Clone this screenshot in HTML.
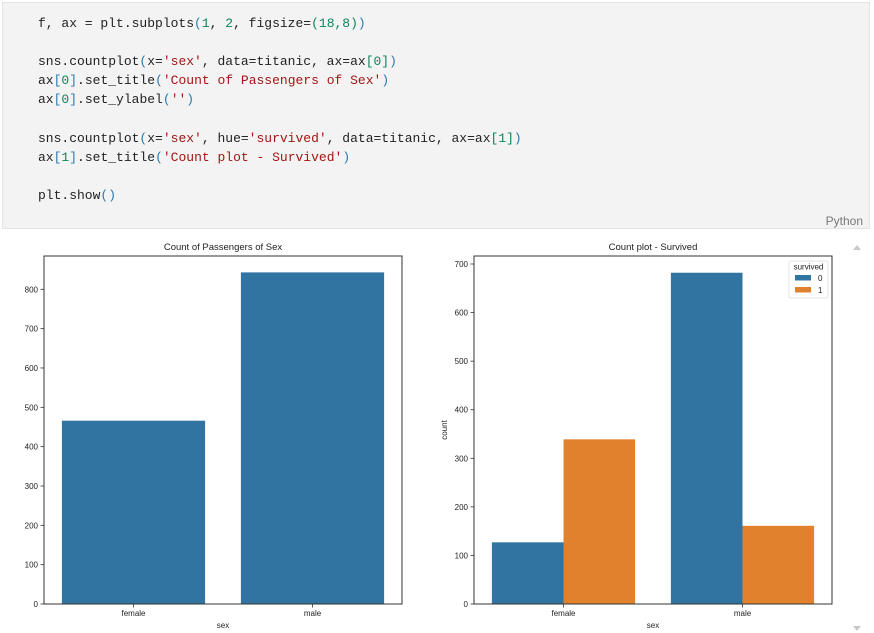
<!DOCTYPE html>
<html><head><meta charset="utf-8"><style>
body{margin:0;width:874px;height:633px;background:#fff;overflow:hidden;position:relative;font-family:"Liberation Sans",sans-serif}
#code{position:absolute;left:2px;top:2px;width:868px;height:227px;background:#f3f3f3;border:1px solid #e4e4e4;box-sizing:border-box}
#code pre{margin:0;position:absolute;left:35px;top:11px;font-family:"Liberation Mono",monospace;font-size:13px;line-height:19.1px;color:#222}
.s{color:#a31515}.b{color:#0451a5}.g{color:#098658}.p{color:#2a7ab0}
#lang{position:absolute;right:6px;top:211px;font-size:12px;color:#777}
svg{position:absolute;left:0;top:0}
svg text{font-family:"Liberation Sans",sans-serif}
</style></head><body>
<div id="code">
<pre>f, ax = plt.subplots<span class="p">(</span><span class="g">1</span>, <span class="g">2</span>, figsize=<span class="g">(18,8)</span><span class="p">)</span>

sns.countplot<span class="p">(</span>x=<span class="s">'sex'</span>, data=titanic, ax=ax<span class="g">[0]</span><span class="p">)</span>
ax<span class="p">[</span><span class="g">0</span><span class="p">]</span>.set_title<span class="p">(</span><span class="s">'Count of Passengers of Sex'</span><span class="p">)</span>
ax<span class="p">[</span><span class="g">0</span><span class="p">]</span>.set_ylabel<span class="p">(</span><span class="s">''</span><span class="p">)</span>

sns.countplot<span class="p">(</span>x=<span class="s">'sex'</span>, hue=<span class="s">'survived'</span>, data=titanic, ax=ax<span class="g">[1]</span><span class="p">)</span>
ax<span class="p">[</span><span class="g">1</span><span class="p">]</span>.set_title<span class="p">(</span><span class="s">'Count plot - Survived'</span><span class="p">)</span>

plt.show<span class="p">()</span></pre>
<div id="lang">Python</div>
</div>
<svg id="fig" width="874" height="633">
<polygon points="853,250 861,250 857,245" fill="#c8c8c8"/>
<polygon points="853,626 861,626 857,631" fill="#c8c8c8"/>
</svg>
<script>
const categories=["female","male"];
const totalCounts=[466,843];
const ticks1=[0,100,200,300,400,500,600,700,800];
const hueLabels=["0","1"];
const survived0=[127,682];
const survived1=[339,161];
const ticks2=[0,100,200,300,400,500,600,700];
const colors=["#3274a1","#e1812c"];
const svg=document.getElementById('fig');
const NS='http://www.w3.org/2000/svg';
function mk(tag,attrs,parent){const e=document.createElementNS(NS,tag);for(const k in attrs)e.setAttribute(k,attrs[k]);(parent||svg).appendChild(e);return e;}
function txt(s,attrs,parent){const e=mk('text',attrs,parent);e.textContent=s;return e;}
function axes(x0,x1,y0,y1,ymax,ticks,title,ylabel,name){
  const g=mk('g',{});
  
  
  const ys=v=>y1-(v/ymax)*(y1-y0);
  const step=(x1-x0)/categories.length;
  const xc=i=>x0+step*(i+0.5);
  ticks.forEach(t=>{
    const l=mk('line',{x1:x0-3.5,x2:x0,y1:ys(t),y2:ys(t),stroke:'#333','stroke-width':0.8},g);
    
    
    const tx=txt(String(t),{x:x0-6,y:ys(t)+3,'font-size':8,'text-anchor':'end',fill:'#222'},g);
    
    
  });
  categories.forEach((c,i)=>{
    mk('line',{x1:xc(i),x2:xc(i),y1:y1,y2:y1+3.5,stroke:'#333','stroke-width':0.8},g);
    const tx=txt(c,{x:xc(i),y:y1+12,'font-size':8,'text-anchor':'middle',fill:'#222'},g);
    
    
  });
  const xt=txt('sex',{x:(x0+x1)/2,y:y1+24,'font-size':8,'text-anchor':'middle',fill:'#222'},g);
  
  
  const tt=txt(title,{x:(x0+x1)/2,y:y0-6,'font-size':9.5,'text-anchor':'middle',fill:'#222'},g);
  
  
  if(ylabel){const yl=txt(ylabel,{x:0,y:0,'font-size':8,'text-anchor':'middle',fill:'#222',transform:`translate(${x0-27},${(y0+y1)/2}) rotate(-90)`},g);
    
    }
  return {g,ys,step,xc};
}
// left
(function(){
  const x0=44,x1=402,y0=256,y1=604;
  const a=axes(x0,x1,y0,y1,ticks1[ticks1.length-1]*(y1-y0)/(y1-289.3),ticks1,'Count of Passengers of Sex','', 'left-chart');
  const w=a.step*0.8;
  totalCounts.forEach((v,i)=>{
    const r=mk('rect',{x:a.xc(i)-w/2,y:a.ys(v),width:w,height:y1-a.ys(v),fill:colors[0]},a.g);
    
    
  });
  mk('rect',{x:x0,y:y0,width:x1-x0,height:y1-y0,fill:'none',stroke:'#333','stroke-width':1},a.g);
})();
// right
(function(){
  const x0=474,x1=832,y0=256,y1=604;
  const a=axes(x0,x1,y0,y1,700*(y1-y0)/(y1-264),ticks2,'Count plot - Survived','count','right-chart');
  const w=a.step*0.8/2;
  [survived0,survived1].forEach((ser,h)=>{
    ser.forEach((v,i)=>{
      const r=mk('rect',{x:a.xc(i)-w+h*w,y:a.ys(v),width:w,height:y1-a.ys(v),fill:colors[h]},a.g);
      
      
    });
  });
  mk('rect',{x:x0,y:y0,width:x1-x0,height:y1-y0,fill:'none',stroke:'#333','stroke-width':1},a.g);
  const lg=mk('g',{},a.g);
  
  
  mk('rect',{x:789,y:261,width:39,height:37,fill:'#fff',stroke:'#ddd','stroke-width':0.8,rx:2},lg);
  txt('survived',{x:808.5,y:269.5,'font-size':8,'text-anchor':'middle',fill:'#222'},lg);
  hueLabels.forEach((h,k)=>{
    const e=mk('g',{},lg);
    
    
    mk('rect',{x:795,y:275+k*12,width:16,height:5.5,fill:colors[k]},e);
    txt(h,{x:818,y:281+k*12,'font-size':8,fill:'#222'},e);
  });
})();
</script>
</body></html>
